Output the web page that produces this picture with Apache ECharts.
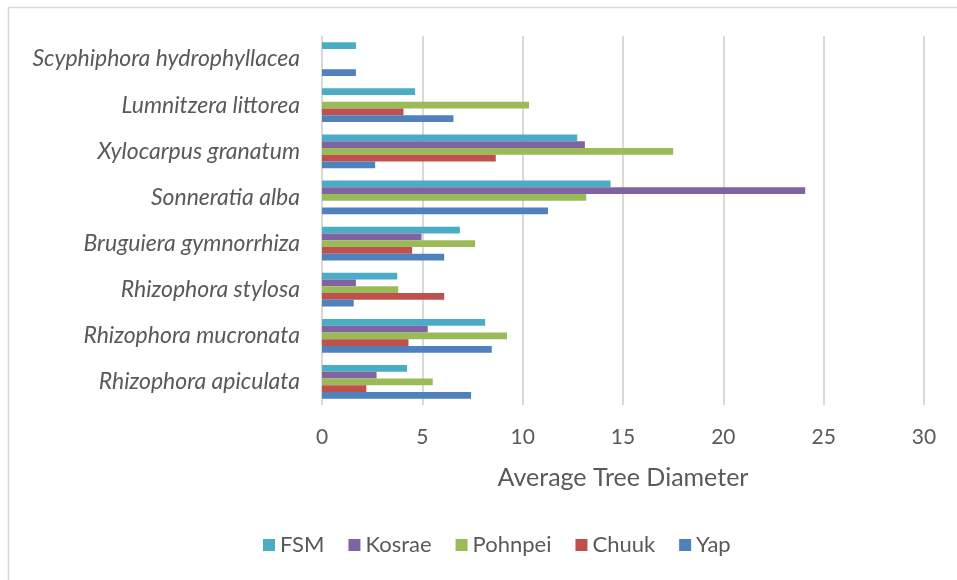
<!DOCTYPE html>
<html>
<head>
<meta charset="utf-8">
<script src="https://cdn.jsdelivr.net/npm/echarts@6/dist/echarts.min.js"></script>
<style>html,body{margin:0;padding:0;background:#fff}#c{width:957px;height:580px}</style>
</head>
<body>
<div id="c"></div>
<script>
var categories = ['Rhizophora apiculata','Rhizophora mucronata','Rhizophora stylosa','Bruguiera gymnorrhiza','Sonneratia alba','Xylocarpus granatum','Lumnitzera littorea','Scyphiphora hydrophyllacea'];
var seriesNames = ['FSM','Kosrae','Pohnpei','Chuuk','Yap'];
var fsm     = [4.24, 8.13, 3.75, 6.87, 14.38, 12.72, 4.64, 1.69];
var kosrae  = [2.72, 5.27, 1.69, 4.96, 24.08, 13.1, null, null];
var pohnpei = [5.52, 9.22, 3.80, 7.63, 13.17, 17.5, 10.32, null];
var chuuk   = [2.21, 4.31, 6.09, 4.49, null, 8.66, 4.06, null];
var yap     = [7.43, 8.46, 1.58, 6.09, 11.26, 2.65, 6.55, 1.69];
var xTicks = [0, 5, 10, 15, 20, 25, 30];
var colors = ['#4BACC6','#8064A2','#9BBB59','#C0504D','#4F81BD'];
var values = [fsm, kosrae, pohnpei, chuuk, yap];

var font = 'Lato, "Open Sans", sans-serif';
var chart = echarts.init(document.getElementById('c'), null, {renderer:'canvas'});
chart.setOption({
  animation: false,
  backgroundColor: '#fff',
  graphic: [{type:'rect', shape:{x:8.5, y:7.5, width:960, height:600}, style:{fill:'none', stroke:'#d9d9d9', lineWidth:1.5}, silent:true, z:-1}],
  legend: {
    data: seriesNames, bottom: 19, left: 258, icon: 'rect', itemWidth: 12, itemHeight: 12, itemGap: 24,
    textStyle: {color:'#595959', fontSize: 22, fontFamily: font}
  },
  grid: {left: 322, right: 33, top: 36, bottom: 175, containLabel: false},
  xAxis: {
    type: 'value', min: xTicks[0], max: xTicks[xTicks.length-1], interval: 5,
    name: 'Average Tree Diameter', nameLocation: 'middle', nameGap: 60,
    nameTextStyle: {color:'#595959', fontSize: 25, fontFamily: font},
    axisLine: {show:false}, axisTick: {show:false},
    axisLabel: {color:'#595959', fontSize: 21, fontFamily: font, margin: 22},
    splitLine: {lineStyle: {color:'#d9d9d9', width: 2}}
  },
  yAxis: {
    type: 'category', data: categories,
    axisLine: {show:false}, axisTick: {show:false},
    axisLabel: {color:'#595959', fontSize: 23, fontStyle:'italic', fontFamily: font, margin: 22}
  },
  series: seriesNames.map(function(n, i){
    return {name: n, type: 'bar', data: values[i], barGap: '0%', barCategoryGap: '27%',
      itemStyle: {color: colors[i]}};
  })
});
</script>
</body>
</html>
